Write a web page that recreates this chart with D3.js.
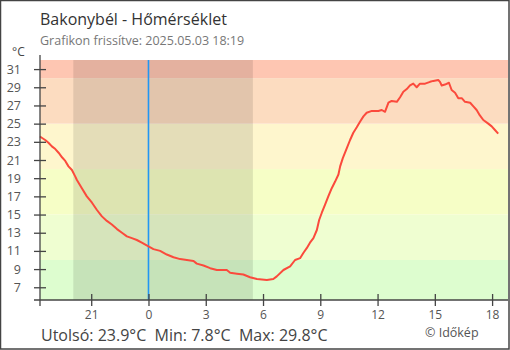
<!DOCTYPE html>
<html><head><meta charset="utf-8">
<script src="https://cdn.jsdelivr.net/npm/d3@7"></script>
<style>
html,body{margin:0;padding:0;background:#fff;}
svg{display:block;font-family:"Open Sans",sans-serif;}
</style></head>
<body>
<script>
// ---- data ----
const title = "Bakonybél - Hőmérséklet";
const subtitle = "Grafikon frissítve: 2025.05.03 18:19";
// hours relative to midnight 2025.05.03 (negative = previous day)
const hours = [-5.68,-5.63,-5.41,-5.24,-5.06,-4.88,-4.71,-4.53,-4.36,-4.19,-4.01,-3.84,-3.75,-3.49,-3.23,-2.96,-2.70,-2.44,-2.18,-1.92,-1.65,-1.39,-1.13,-0.87,-0.61,-0.35,0,0.26,0.61,0.96,1.31,1.66,2.01,2.36,2.53,2.88,3.23,3.58,4.10,4.28,4.63,4.97,5.32,5.68,6.20,6.54,6.72,7.07,7.42,7.68,7.94,8.12,8.29,8.46,8.64,8.82,8.94,9.08,9.25,9.42,9.60,9.77,9.95,10.04,10.18,10.39,10.56,10.73,10.91,11.08,11.26,11.43,11.70,12.04,12.22,12.39,12.57,12.74,13.01,13.18,13.35,13.53,13.70,13.87,14.05,14.22,14.49,14.75,14.92,15.18,15.27,15.36,15.53,15.74,15.88,16.06,16.23,16.41,16.58,16.85,17.02,17.19,17.36,17.54,17.80,17.98,18.15,18.32];
const temps = [23.6,23.5,23.2,22.9,22.5,22.2,21.8,21.3,20.9,20.3,19.9,19.2,18.8,17.9,17.0,16.3,15.5,14.8,14.3,13.9,13.4,13.0,12.6,12.4,12.2,11.9,11.5,11.2,11.0,10.6,10.3,10.1,10.0,9.9,9.6,9.4,9.1,8.9,8.9,8.6,8.5,8.4,8.1,7.9,7.8,7.9,8.2,8.9,9.3,10.0,10.2,10.8,11.3,11.9,12.4,13.3,14.4,15.2,16.1,17.0,17.9,18.6,19.4,20.3,21.2,22.3,23.2,24.0,24.6,25.2,25.8,26.2,26.4,26.4,26.5,26.3,27.3,27.5,27.4,27.9,28.5,28.8,29.2,29.4,29.0,29.4,29.4,29.6,29.7,29.8,29.6,29.2,29.3,29.5,28.7,28.4,27.8,27.8,27.4,27.3,26.9,26.5,25.9,25.4,25.0,24.7,24.3,23.9];
const yTicks = [7,9,11,13,15,17,19,21,23,25,27,29,31];
const xTicks = [-3,0,3,6,9,12,15,18];
const xTickLabels = ["21","0","3","6","9","12","15","18"];
const bandLimits = [-100,10,15,20,25,30,100];
const bandColors = ["#ddfdcf","#effed1","#f6fec6","#fef6cd","#fcdcc0","#fec6b2"];
const nightStart = -3.94, nightEnd = 5.47;
const lastVal = 23.9, minVal = 7.8, maxVal = 29.8;

// ---- chart ----
const W = 510, H = 350;
const m = {left:40, right:2, top:60, bottom:50};
const svg = d3.select("body").append("svg").attr("width",W).attr("height",H);

const x = d3.scaleLinear().domain([-5.683, 18.833]).range([m.left, W - m.right]);
const y = d3.scaleLinear().domain([5.6, 32]).range([H - m.bottom, m.top]);
const [y0, y1] = y.domain();

// bands
svg.append("g").selectAll("rect").data(bandColors).join("rect")
  .attr("x", x.range()[0])
  .attr("width", x.range()[1] - x.range()[0])
  .attr("y", (d,i) => y(Math.min(bandLimits[i+1], y1)))
  .attr("height", (d,i) => y(Math.max(bandLimits[i], y0)) - y(Math.min(bandLimits[i+1], y1)))
  .attr("fill", d => d);

// night shading
svg.append("rect")
  .attr("x", x(nightStart)).attr("width", x(nightEnd) - x(nightStart))
  .attr("y", y(y1)).attr("height", y(y0) - y(y1))
  .attr("fill", "rgba(0,0,0,0.1)");

// midnight line
svg.append("line")
  .attr("x1", x(0)).attr("x2", x(0))
  .attr("y1", y(y1)).attr("y2", y(y0))
  .attr("stroke", "#2196f3").attr("stroke-width", 1.6);

// temperature line
const data = hours.map((h,i) => [h, temps[i]]);
svg.append("path").datum(data)
  .attr("d", d3.line().x(d => x(d[0])).y(d => y(d[1])))
  .attr("fill","none").attr("stroke","#fb4a3c").attr("stroke-width",2)
  .attr("stroke-linejoin","round");

// y axis
const yAxis = svg.append("g").attr("transform",`translate(${m.left},0)`)
  .call(d3.axisLeft(y).tickValues(yTicks).tickSizeInner(6).tickSizeOuter(0).tickPadding(13));
yAxis.select(".domain").remove();
yAxis.selectAll(".tick line").attr("x1", 6).attr("x2", -6).attr("stroke","#444").attr("stroke-width",1.3);
yAxis.selectAll(".tick text").attr("fill","#555").style("font-size","12.5px").style("font-family","'Open Sans',sans-serif");
svg.append("line").attr("x1", m.left).attr("x2", m.left).attr("y1", 55).attr("y2", H - m.bottom + 6)
  .attr("stroke","#444").attr("stroke-width",1.3);

// x axis
const xAxis = svg.append("g").attr("transform",`translate(0,${H - m.bottom})`)
  .call(d3.axisBottom(x).tickValues(xTicks).tickFormat((d,i) => xTickLabels[i]).tickSizeInner(6).tickSizeOuter(0).tickPadding(4.5));
xAxis.select(".domain").remove();
xAxis.selectAll(".tick line").attr("y1", -6).attr("y2", 6).attr("stroke","#444").attr("stroke-width",1.3);
xAxis.selectAll(".tick text").attr("fill","#555").style("font-size","12px").style("font-family","'Open Sans',sans-serif");
svg.append("line").attr("x1", m.left - 6).attr("x2", W - m.right).attr("y1", H - m.bottom).attr("y2", H - m.bottom)
  .attr("stroke","#444").attr("stroke-width",1.3);

// texts
svg.append("text").attr("x", 40).attr("y", 25).text(title)
  .attr("fill","#333").style("font-size","16px");
svg.append("text").attr("x", 40).attr("y", 45).text(subtitle)
  .attr("fill","#777").style("font-size","12.5px");
svg.append("text").attr("x", 12).attr("y", 56).text("°C")
  .attr("fill","#444").style("font-size","12px");
svg.append("text").attr("x", 41).attr("y", 341)
  .attr("fill","#444").style("font-size","16px").style("white-space","pre")
  .text(`Utolsó: ${lastVal.toFixed(1)}°C  Min: ${minVal.toFixed(1)}°C  Max: ${maxVal.toFixed(1)}°C`);
svg.append("text").attr("x", 425).attr("y", 336.5).text("© Időkép")
  .attr("fill","#555").style("font-size","12.5px");

// border
svg.append("rect").attr("x",0.5).attr("y",0.5).attr("width",W-1.5).attr("height",H-1.5)
  .attr("fill","none").attr("stroke","#444").attr("stroke-width",1.5);
</script>
</body></html>
